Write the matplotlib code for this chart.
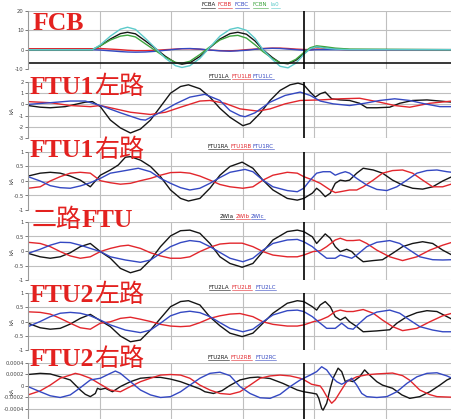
import numpy as np
import matplotlib
matplotlib.use('Agg')
import matplotlib.pyplot as plt
from matplotlib.lines import Line2D
from matplotlib.ticker import FuncFormatter

# time axis in ms, vertical grid every 10 ms, fault-clear marker at 38.5 ms
MARK_T = 38.5
X_MAX = 59.2

# ---- FCB ----
fcb_t = [0, 9.0, 10.1, 11.5, 12.9, 13.9, 15.0, 16.4, 18.0, 19.2, 20.6, 21.5, 22.6, 24.0, 25.4, 26.8,
         28.2, 29.3, 30.5, 31.7, 32.8, 34.1, 35.2, 36.3, 37.4, 38.5, 39.4, 40.3, 41.5, 42.9, 44.9, 59.2]
fcb_a = [0, 0, 2.0, 5.5, 8.3, 9.0, 8.2, 4.5, 0, -3.5, -6.8, -7.5, -6.8, -3.5, 1.0, 5.5,
         8.3, 9.0, 8.0, 4.5, 0, -4.0, -6.8, -7.3, -5.5, -2.0, 0.5, 1.5, 0.8, 0.3, 0, 0]
fcb_b = [0.5, 0.5, 0.6, 0.3, 0, -0.3, -0.5, -0.5, -0.3, 0, 0.3, 0.5, 0.5, 0.2, -0.2, -0.5,
         -0.6, -0.4, 0, 0.3, 0.6, 0.8, 0.8, 0.6, 0.3, 0.1, 0, 0.3, 0.3, 0.2, 0, 0]
fcb_c = [0, 0, -0.2, -0.6, -1.0, -1.2, -1.3, -1.2, -0.8, -0.3, 0.2, 0.5, 0.6, 0.3, -0.2, -0.6,
         -0.8, -0.6, -0.3, 0.2, 0.5, 0.7, 0.6, 0.3, 0, -0.3, -0.2, 0, 0, 0, 0, 0]
fcb_n = [0, 0, 2.0, 5.0, 7.0, 7.5, 6.6, 3.0, -1.0, -4.0, -6.6, -7.0, -6.0, -2.5, 1.5, 5.0,
         7.0, 7.4, 6.0, 2.5, -1.0, -4.5, -6.8, -7.0, -5.0, -1.5, 1.0, 2.0, 1.5, 0.8, 0.3, 0]
fcb_i0 = [0, 0, 2.5, 7.0, 10.6, 11.6, 10.5, 5.8, 0, -4.5, -8.3, -9.2, -8.3, -4.5, 1.3, 7.0,
          10.5, 11.4, 10.0, 5.8, 0, -5.0, -8.6, -9.4, -7.0, -2.5, 0.5, 1.5, 0.8, 0.3, 0, 0]
fcb_level = -7

# ---- FTU1 left ----
f1l_a_t = [0, 1.7, 3.1, 5.2, 8.0, 9.0, 10.1, 11.5, 12.9, 14.3, 15.7, 17.1, 18.5, 19.9, 21.3, 22.4,
           24.0, 25.4, 26.8, 28.2, 30.0, 31.0, 32.4, 33.8, 35.2, 36.6, 37.7, 38.5, 39.4, 40.1, 40.8,
           41.5, 42.4, 43.6, 44.9, 46.3, 47.3, 48.7, 50.5, 51.9, 53.7, 55.7, 57.5, 59.2]
f1l_a = [-0.1, -0.25, -0.3, -0.2, 0.2, 0.25, -0.2, -1.4, -2.1, -2.55, -2.2, -1.4, -0.2, 1.0, 1.6, 1.75,
         1.4, 0.65, -0.35, -1.15, -1.9, -1.7, -0.8, 0.35, 1.25, 1.75, 1.9, 1.75, 1.1, 0.65, 0.95,
         1.1, 0.5, 0.4, 0.35, 0.1, -0.3, -0.3, -0.25, 0.1, 0.35, 0.4, 0.3, 0.2]
f1l_b_t = [0, 3.1, 5.9, 8.7, 10.1, 12.2, 14.3, 17.1, 19.2, 21.3, 24.0, 25.4, 27.5, 29.6, 32.1, 33.8,
           35.9, 38.0, 40.8, 43.6, 46.3, 49.1, 51.2, 53.3, 56.1, 59.2]
f1l_b = [0.25, 0.15, -0.1, -0.2, -0.1, -0.4, -0.7, -0.9, -0.7, -0.25, 0.3, 0.35, 0.1, -0.4, -0.6, -0.4,
         0.05, 0.35, 0.4, 0.5, 0.55, 0.2, -0.1, -0.25, 0.1, 0.3]
f1l_c_t = [0, 3.1, 5.9, 8.0, 10.1, 12.9, 15.7, 16.4, 18.5, 20.6, 22.6, 24.7, 26.8, 28.2, 29.6, 30.3,
           31.7, 33.8, 35.9, 38.0, 39.4, 40.8, 42.6, 44.9, 47.0, 49.1, 51.2, 53.3, 55.4, 57.5, 59.2]
f1l_c = [0, 0.15, 0.3, 0.3, -0.1, -0.75, -1.35, -1.4, -0.7, 0.05, 0.65, 0.9, 0.35, -0.55, -1.0, -1.1,
         -0.75, 0.2, 0.8, 1.1, 0.8, 0.3, 0.05, -0.1, 0.1, 0.35, 0.5, 0.35, 0.05, -0.2, -0.2]

# ---- FTU1 right ----
f1r_a_t = [0, 1.7, 3.1, 4.5, 5.9, 7.3, 8.7, 9.4, 10.1, 11.5, 12.6, 13.6, 14.3, 15.7, 17.1, 18.5, 19.9,
           21.3, 22.4, 24.0, 25.4, 26.8, 28.2, 29.9, 31.4, 32.8, 34.2, 36.2, 37.6, 38.5, 39.7, 40.3,
           40.8, 41.5, 42.2, 42.9, 43.6, 44.3, 44.9, 45.9, 46.8, 48.2, 49.5, 50.9, 52.3, 53.7, 55.1,
           56.5, 57.9, 59.2]
f1r_a = [0.17, 0.27, 0.3, 0.27, 0.17, 0.03, -0.2, 0, 0.2, 0.38, 0.55, 0.82, 0.84, 0.72, 0.5, 0.15, -0.31,
         -0.6, -0.69, -0.6, -0.25, 0.2, 0.5, 0.65, 0.44, 0.03, -0.31, -0.6, -0.66, -0.6, -0.42, -0.25,
         -0.35, -0.54, -0.42, -0.08, 0.03, 0, 0.03, 0.27, 0.44, 0.38, 0.27, 0.03, -0.14, -0.25, -0.28,
         -0.2, 0, 0.15]
f1r_b_t = [0, 1.7, 3.1, 4.5, 5.9, 7.3, 8.7, 10.1, 11.5, 12.9, 14.3, 15.7, 17.1, 18.5, 19.9, 21.3, 22.6,
           24.0, 25.4, 26.8, 28.2, 30.0, 31.4, 32.8, 34.2, 36.2, 37.6, 38.5, 39.8, 40.8, 42.2, 42.9,
           43.6, 44.9, 45.9, 46.8, 48.2, 49.5, 50.9, 52.3, 53.7, 55.1, 56.5, 57.9, 59.2]
f1r_b = [-0.25, -0.2, 0, 0.15, 0.27, 0.3, 0.27, 0.01, -0.06, -0.11, -0.08, 0.01, 0.09, 0.2, 0.29, 0.3,
         0.27, 0.17, 0.03, -0.12, -0.2, -0.25, -0.2, 0.03, 0.2, 0.3, 0.27, 0.15, 0.03, -0.08, -0.31,
         -0.4, -0.37, -0.31, -0.31, -0.2, 0.03, 0.27, 0.36, 0.38, 0.27, 0.03, -0.2, -0.2, -0.1]
f1r_c_t = [0, 1.7, 3.1, 4.5, 5.9, 7.3, 8.7, 10.1, 11.5, 13.6, 15.4, 17.1, 18.5, 19.9, 21.3, 22.6, 24.0,
           25.4, 26.8, 28.2, 30.3, 31.4, 32.8, 34.2, 36.2, 37.6, 38.5, 39.4, 40.3, 41.2, 42.2, 42.9,
           43.6, 44.3, 44.9, 45.9, 47.3, 48.7, 50.1, 51.5, 52.9, 54.3, 55.7, 57.1, 58.5, 59.2]
f1r_c = [0.15, 0, -0.16, -0.23, -0.25, -0.17, -0.06, 0.09, 0.27, 0.36, 0.44, 0.32, 0.09, -0.08, -0.23,
         -0.31, -0.25, -0.08, 0.12, 0.3, 0.4, 0.32, 0.03, -0.2, -0.33, -0.37, -0.25, 0.03, 0.27, 0.32,
         0.32, 0.2, 0.27, 0.32, 0.27, 0.09, -0.14, -0.29, -0.33, -0.2, 0.03, 0.27, 0.36, 0.38, 0.32, 0.3]

# ---- 2-way FTU ----
w2_a_t = [0, 1.7, 3.1, 4.5, 5.9, 7.3, 8.7, 10.1, 11.5, 12.9, 14.3, 15.7, 17.1, 18.5, 19.9, 21.3, 22.6,
          24.0, 25.4, 26.8, 28.2, 29.9, 31.4, 32.8, 34.2, 36.2, 37.6, 38.5, 39.7, 40.3, 41.5, 42.2,
          42.9, 43.6, 44.5, 45.2, 45.9, 46.8, 48.2, 49.5, 50.9, 52.3, 53.7, 55.1, 56.5, 57.9, 59.2]
w2_a = [-0.08, -0.2, -0.25, -0.2, -0.06, 0.15, 0.26, -0.02, -0.25, -0.6, -0.75, -0.65, -0.31, 0.15, 0.52,
        0.7, 0.72, 0.61, 0.26, -0.2, -0.43, -0.56, -0.43, -0.02, 0.38, 0.67, 0.72, 0.67, 0.49, 0.26,
        0.59, 0.44, 0.15, -0.02, 0.06, -0.02, -0.2, -0.37, -0.33, -0.3, -0.08, 0.15, 0.26, 0.32, 0.26,
        0.03, -0.14]
w2_b_t = [0, 1.7, 3.1, 4.5, 5.9, 7.3, 8.7, 10.1, 11.5, 12.9, 14.0, 15.7, 17.1, 18.5, 19.9, 21.3, 22.6,
          24.0, 25.4, 26.8, 28.2, 29.9, 31.4, 32.8, 34.2, 36.2, 37.6, 38.5, 39.8, 40.8, 41.7, 42.9,
          43.6, 44.5, 45.4, 46.3, 47.3, 48.7, 50.5, 52.3, 54.3, 56.1, 57.9, 59.2]
w2_b = [0.3, 0.26, 0.15, -0.02, -0.17, -0.25, -0.2, -0.02, 0.09, 0.17, 0.2, 0.09, -0.06, -0.17, -0.25,
        -0.25, -0.2, -0.02, 0.13, 0.24, 0.27, 0.27, 0.15, -0.02, -0.14, -0.2, -0.2, -0.14, -0.02, 0.01,
        0.15, 0.38, 0.44, 0.36, 0.36, 0.38, 0.26, 0.03, -0.2, -0.33, -0.2, 0.03, 0.2, 0.3]
w2_c_t = [0, 1.7, 3.1, 4.5, 5.9, 7.3, 8.7, 10.1, 11.5, 13.6, 15.7, 17.1, 18.5, 19.9, 21.3, 22.6, 24.0,
          25.4, 26.8, 28.2, 30.0, 31.4, 32.8, 34.2, 36.2, 37.6, 38.5, 39.7, 40.8, 41.7, 42.9, 43.6,
          44.5, 45.2, 45.9, 47.3, 48.7, 50.5, 51.9, 53.3, 54.7, 56.5, 57.9, 59.2]
w2_c = [-0.08, 0.06, 0.2, 0.3, 0.29, 0.2, 0.09, -0.02, -0.2, -0.31, -0.39, -0.31, -0.08, 0.15, 0.29, 0.36,
        0.32, 0.15, -0.05, -0.25, -0.37, -0.25, 0.03, 0.26, 0.38, 0.4, 0.32, 0.15, -0.08, -0.25, -0.25,
        -0.14, -0.2, -0.25, -0.14, 0.15, 0.3, 0.36, 0.26, 0.03, -0.2, -0.3, -0.31, -0.3]

# ---- FTU2 left ----
f2l_a_t = [0, 1.7, 3.1, 4.5, 5.9, 7.3, 8.7, 10.1, 11.5, 12.9, 14.3, 15.7, 17.1, 18.5, 19.9, 21.3, 22.4,
           24.0, 25.4, 26.8, 28.2, 29.9, 31.4, 32.8, 34.2, 36.2, 37.6, 38.5, 39.7, 40.3, 40.8, 41.5,
           42.2, 42.9, 43.6, 44.3, 44.9, 45.9, 46.8, 48.7, 50.5, 51.5, 52.9, 54.3, 55.7, 57.1, 58.5, 59.2]
f2l_a = [-0.06, -0.22, -0.27, -0.24, -0.09, 0.11, 0.25, 0.03, -0.18, -0.51, -0.71, -0.65, -0.3, 0.11, 0.52,
         0.7, 0.73, 0.58, 0.16, -0.15, -0.41, -0.53, -0.41, -0.06, 0.29, 0.64, 0.73, 0.7, 0.52, 0.4,
         0.58, 0.7, 0.52, 0.17, 0.05, 0.15, -0.01, -0.18, -0.36, -0.33, -0.29, -0.06, 0.17, 0.31, 0.38,
         0.35, 0.17, 0.08]
f2l_b_t = [0, 1.7, 3.1, 4.5, 5.9, 7.3, 8.7, 10.1, 11.5, 12.9, 14.3, 15.7, 17.1, 18.5, 19.9, 21.3, 22.6,
           24.0, 25.4, 26.8, 28.2, 29.6, 31.4, 32.8, 34.2, 36.2, 37.6, 38.5, 39.8, 40.8, 41.9, 42.9,
           43.6, 44.5, 45.4, 46.8, 48.2, 49.5, 50.9, 52.3, 54.3, 56.1, 57.9, 59.2]
f2l_b = [0.34, 0.32, 0.26, 0.11, -0.06, -0.22, -0.27, -0.06, -0.01, 0.11, 0.15, 0.08, 0, -0.1, -0.16,
         -0.18, -0.16, -0.04, 0.11, 0.2, 0.26, 0.28, 0.17, -0.01, -0.1, -0.16, -0.16, -0.12, -0.01, 0.05,
         0.17, 0.35, 0.4, 0.35, 0.35, 0.42, 0.29, 0.05, -0.18, -0.32, -0.24, -0.01, 0.2, 0.29]
f2l_c_t = [0, 1.7, 3.1, 4.5, 5.9, 7.3, 8.7, 10.1, 11.5, 13.6, 15.7, 17.1, 18.5, 19.9, 21.3, 22.6, 24.0,
           25.4, 26.8, 28.2, 30.0, 31.4, 32.8, 34.2, 36.2, 37.6, 38.5, 39.7, 40.8, 41.7, 42.9, 43.8,
           44.7, 45.4, 46.1, 47.3, 48.7, 50.5, 51.9, 53.3, 54.7, 56.5, 57.9, 59.2]
f2l_c = [-0.18, 0, 0.17, 0.29, 0.32, 0.29, 0.2, 0.05, -0.12, -0.3, -0.39, -0.3, -0.06, 0.2, 0.32, 0.36,
         0.31, 0.17, -0.04, -0.24, -0.36, -0.27, -0.01, 0.23, 0.38, 0.4, 0.35, 0.17, -0.06, -0.24, -0.24,
         -0.06, -0.24, -0.27, -0.1, 0.17, 0.33, 0.4, 0.29, 0.05, -0.18, -0.3, -0.36, -0.36]

# ---- FTU2 right (values read in 1e-4 kA) ----
f2r_a_t = [0, 1.7, 3.1, 4.5, 5.9, 7.3, 8.0, 8.7, 9.4, 9.7, 10.1, 10.8, 11.8, 12.9, 14.3, 15.7, 17.1,
           18.5, 19.9, 21.3, 22.6, 24.0, 24.7, 25.9, 27.1, 28.2, 29.6, 31.0, 32.1, 33.8, 35.6, 37.6,
           38.5, 39.7, 40.3, 40.6, 41.0, 41.2, 41.7, 42.2, 42.6, 43.3, 43.8, 44.3, 44.7, 45.4, 46.3,
           47.0, 47.7, 48.7, 49.5, 50.9, 52.2, 53.3, 54.7, 56.1, 57.5, 58.5, 59.2]
f2r_a = np.array([2.0, 2.2, 2.1, 1.6, 1.05, -0.7, -1.45, -1.85, -1.3, -0.4, -0.6, -0.4, -1.0, -0.1, 0.75,
                  1.35, 1.5, 1.5, 1.2, 0.75, 0.15, -0.5, -1.0, -1.3, -0.8, 0.1, 1.05, 1.45, 1.55, 1.3,
                  0.45, -0.7, -1.0, -1.25, -1.4, -2.15, -3.9, -4.2, -3.0, -0.4, 1.35, 3.1, 2.5, 0.75,
                  1.0, 0.75, 1.6, 2.8, 1.9, 0.75, 0.15, -0.4, -1.55, -2.15, -1.85, -1.0, 0.15, 1.05,
                  1.45]) * 1e-4
f2r_b_t = [0, 1.7, 3.1, 4.5, 5.9, 6.6, 7.3, 8.7, 10.1, 11.5, 12.9, 14.3, 15.7, 17.1, 18.5, 19.9, 21.3,
           22.6, 24.0, 25.4, 26.8, 28.2, 29.6, 31.0, 32.4, 33.8, 35.2, 36.6, 38.0, 38.5, 39.6, 40.8,
           41.2, 41.7, 42.4, 42.9, 43.6, 44.5, 45.9, 47.3, 48.7, 50.9, 52.3, 53.3, 54.7, 56.1, 57.1,
           59.2]
f2r_b = np.array([-1.55, -0.85, 0.15, 1.35, 1.9, 2.2, 2.0, 1.35, 0.3, -0.7, -1.0, -0.1, 0.75, 1.35, 1.9,
                  2.0, 1.9, 1.35, 0.15, -0.7, -1.3, -1.45, -1.0, 0.15, 1.35, 1.75, 1.9, 1.75, 1.35,
                  1.1, 0.3, 0.0, -0.7, -1.8, -3.0, -2.4, -1.0, 0.75, 1.6, 1.95, 2.1, 2.25, 1.8, 1.0,
                  -0.7, -1.5, -1.85, -1.95]) * 1e-4
f2r_c_t = [0, 1.7, 3.1, 4.5, 5.9, 7.3, 8.7, 10.1, 11.5, 12.2, 12.9, 14.3, 15.7, 17.1, 18.5, 19.9, 21.3,
           22.6, 24.0, 25.4, 26.8, 28.2, 29.6, 31.0, 32.4, 33.8, 35.2, 36.6, 38.0, 39.4, 40.3, 41.0,
           41.7, 42.4, 43.1, 43.8, 44.5, 45.2, 45.9, 46.6, 47.3, 48.7, 50.1, 51.5, 52.9, 54.3, 55.7,
           57.1, 58.5, 59.2]
f2r_c = np.array([-0.1, -1.0, -1.7, -2.0, -1.55, -0.3, 1.05, 1.35, 2.2, 2.6, 2.2, 0.75, -0.7, -1.55, -2.0,
                  -1.85, -1.0, 0.15, 1.35, 2.2, 2.4, 1.8, -0.1, -1.3, -2.05, -2.15, -1.45, -0.1, 1.05,
                  1.9, 2.5, 3.35, 2.8, 1.6, 0.75, 0.3, 0.75, 1.35, 0.15, -1.3, -1.85, -2.0, -1.85,
                  -1.0, 0.45, 1.6, 2.2, 2.3, 1.75, 1.35]) * 1e-4

BLACK = '#151515'
RED = '#e2262c'
BLUE = '#3448c2'
GREEN = '#3ea53e'
CYAN = '#5ccaca'
TITLE_RED = '#e3211f'

W, H = 452, 419
fig = plt.figure(figsize=(W / 100, H / 100), dpi=100)
fig.patch.set_facecolor('white')

# (title parts, axes top px, axes bottom px, ylim, yticks, series,
#  legend labels, legend x px, legend y px, title baseline px)
panels = [
    ([('FCB', 'en')], 11, 69, (-10, 20), [20, 10, 0, -10],
     [(fcb_t, fcb_a, BLACK), (fcb_t, fcb_b, RED), (fcb_t, fcb_c, BLUE),
      (fcb_t, fcb_n, GREEN), (fcb_t, fcb_i0, CYAN)],
     ['FCBA', 'FCBB', 'FCBC', 'FCBN', 'Ia0'], [201, 218, 235, 253, 271], 5, 29.5),
    ([('FTU1', 'en'), ('左路', 'cn')], 82, 138, (-3, 2), [2, 1, 0, -1, -2, -3],
     [(f1l_a_t, f1l_a, BLACK), (f1l_b_t, f1l_b, RED), (f1l_c_t, f1l_c, BLUE)],
     ['FTU1LA', 'FTU1LB', 'FTU1LC'], [209, 232, 253], 76, 94),
    ([('FTU1', 'en'), ('右路', 'cn')], 152, 210, (-1, 1), [1, 0.5, 0, -0.5, -1],
     [(f1r_a_t, f1r_a, BLACK), (f1r_b_t, f1r_b, RED), (f1r_c_t, f1r_c, BLUE)],
     ['FTU1RA', 'FTU1RB', 'FTU1RC'], [208, 231, 253], 146, 157),
    ([('二路', 'cn'), ('FTU', 'en')], 222, 280, (-1, 1), [1, 0.5, 0, -0.5, -1],
     [(w2_a_t, w2_a, BLACK), (w2_b_t, w2_b, RED), (w2_c_t, w2_c, BLUE)],
     ['2WIa', '2WIb', '2WIc'], [220, 236, 251], 216, 227),
    ([('FTU2', 'en'), ('左路', 'cn')], 293, 350, (-1, 1), [1, 0.5, 0, -0.5, -1],
     [(f2l_a_t, f2l_a, BLACK), (f2l_b_t, f2l_b, RED), (f2l_c_t, f2l_c, BLUE)],
     ['FTU2LA', 'FTU2LB', 'FTU2LC'], [209, 232, 255], 287, 302),
    ([('FTU2', 'en'), ('右路', 'cn')], 363, 419, (-0.000574, 0.0004),
     [0.0004, 0.0002, 0, -0.0002, -0.0004],
     [(f2r_a_t, f2r_a, BLACK), (f2r_b_t, f2r_b, RED), (f2r_c_t, f2r_c, BLUE)],
     ['FTU2RA', 'FTU2RB', 'FTU2RC'], [208, 231, 255], 357, 366),
]

LEFT = 28
fmt = FuncFormatter(lambda v, p: f'{v:g}')
renderer = fig.canvas.get_renderer()

for idx, (title, top, bot, ylim, yticks, series, labels, lx, ly, base) in enumerate(panels):
    ax = fig.add_axes([LEFT / W, 1 - bot / H, (W - LEFT) / W, (bot - top) / H])
    ax.set_facecolor('white')
    for t, v, c in series:
        ax.plot(t, v, color=c, lw=1.0, solid_joinstyle='round')
    if idx == 0:
        ax.axhline(fcb_level, color=BLACK, lw=1.2)
    ax.axvline(MARK_T, color='black', lw=1.2)
    ax.set_xlim(0, X_MAX)
    ax.set_ylim(*ylim)
    ax.set_xticks([10, 20, 30, 40, 50])
    ax.set_yticks(yticks)
    ax.yaxis.set_major_formatter(fmt)
    ax.grid(True, color='#bfbfbf', lw=0.8)
    ax.set_axisbelow(True)
    ax.tick_params(axis='x', length=0, labelbottom=False)
    ax.tick_params(axis='y', labelsize=3.8, length=2, width=0.5, colors='#444444', pad=1)
    for s in ['top', 'right', 'bottom']:
        ax.spines[s].set_visible(False)
    ax.spines['left'].set_color('#999999')
    ax.spines['left'].set_linewidth(0.8)
    if idx > 0:
        ax.set_ylabel('kA', fontsize=4, color='#444444')
        ax.yaxis.set_label_coords(-13 / (W - LEFT), 0.5)

    # underlined legend entries above the panel
    for lab, x, (t, v, c) in zip(labels, lx, series):
        lt = fig.text(x / W, 1 - ly / H, lab, color=c, fontsize=4, ha='left', va='center')
        bb = lt.get_window_extent(renderer=renderer)
        uy = (bb.y0 - 0.3) / H
        fig.add_artist(Line2D([bb.x0 / W, bb.x1 / W], [uy, uy], color=c, lw=0.4,
                              transform=fig.transFigure))

    # big red panel title, latin part in bold serif, chinese part in CJK font
    x_px = 33 if title[0][0] == 'FCB' else (32 if title[0][1] == 'cn' else 30)
    for part, kind in title:
        if kind == 'en':
            txt = fig.text(x_px / W, 1 - base / H, part, color=TITLE_RED, fontsize=18.5,
                           family='Liberation Serif', weight='bold', ha='left', va='baseline')
        else:
            txt = fig.text(x_px / W, 1 - base / H, part, color=TITLE_RED, fontsize=18,
                           family='Noto Sans CJK SC', weight='normal', ha='left', va='baseline')
        bb = txt.get_window_extent(renderer=renderer)
        x_px = bb.x1

fig.savefig('out.png', dpi=100, facecolor='white')
